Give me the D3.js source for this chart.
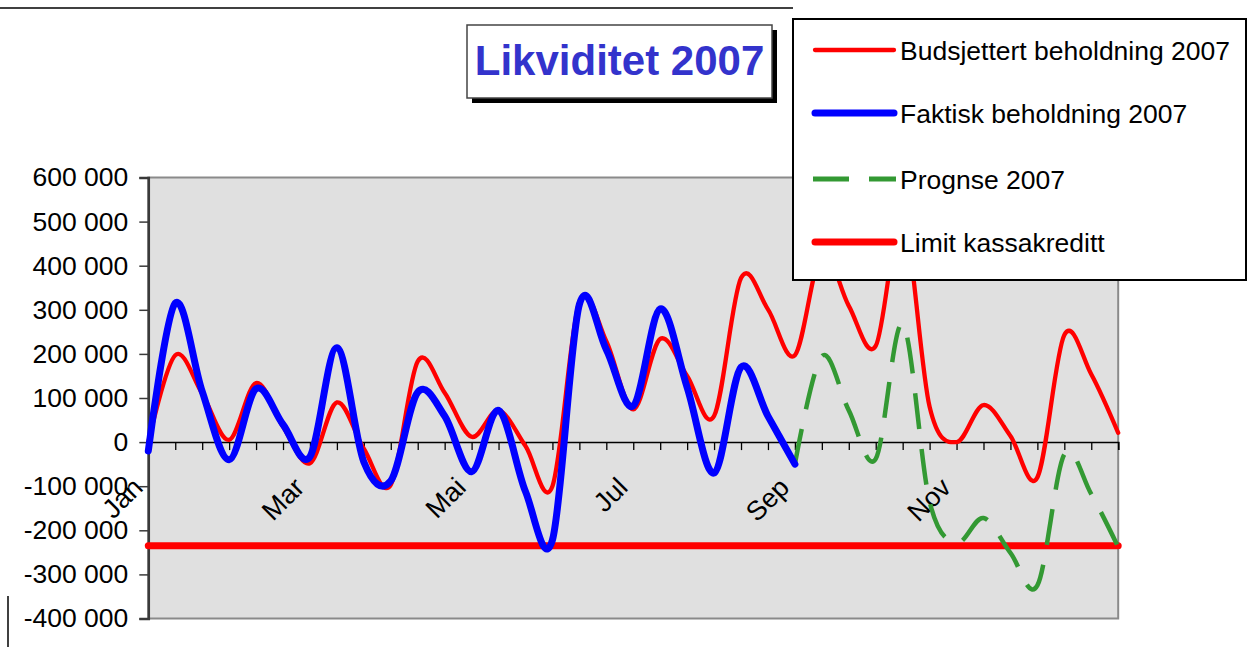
<!DOCTYPE html>
<html>
<head>
<meta charset="utf-8">
<script src="https://cdn.jsdelivr.net/npm/d3@7"></script>
<style>
  body { margin: 0; background: #fff; }
  svg { display: block; }
  text { font-family: "Liberation Sans", Arial, sans-serif; }
</style>
</head>
<body>
<div id="chart"></div>
<script>
// 3 points per month (start, ~10th, ~20th) + year end
const categories = [
  "Jan", "", "", "Feb", "", "", "Mar", "", "", "Apr", "", "", "Mai", "", "", "Jun", "", "",
  "Jul", "", "", "Aug", "", "", "Sep", "", "", "Okt", "", "", "Nov", "", "", "Des", "", "", ""
];

const budget = [
  0, 197000, 110000, 5000, 134000, 35000, -48000, 90000, -15000, -97000, 183000, 112000,
  12000, 72000, -9000, -100000, 318000, 229000, 74000, 234000, 150000, 59000, 372000, 301000,
  197000, 430000, 309000, 218000, 510000, 80000, 0, 84000, 14000, -80000, 243000, 154000, 21000
];

const actual = [
  -20000, 315000, 115000, -40000, 121000, 40000, -33000, 214000, -45000, -88000, 113000, 59000,
  -67000, 72000, -112000, -222000, 312000, 210000, 82000, 302000, 124000, -70000, 170000, 59000,
  -50000, null, null, null, null, null, null, null, null, null, null, null, null
];

const forecast = [
  null, null, null, null, null, null, null, null, null, null, null, null,
  null, null, null, null, null, null, null, null, null, null, null, null,
  -50000, 195000, 72000, -38000, 268000, -135000, -228000, -172000, -251000, -325000, -28000, -118000, -238000
];

const limit = [
  -235000, -235000, -235000, -235000, -235000, -235000, -235000, -235000, -235000, -235000,
  -235000, -235000, -235000, -235000, -235000, -235000, -235000, -235000, -235000, -235000,
  -235000, -235000, -235000, -235000, -235000, -235000, -235000, -235000, -235000, -235000,
  -235000, -235000, -235000, -235000, -235000, -235000, -235000
];

const yTicks = [-400000, -300000, -200000, -100000, 0, 100000, 200000, 300000, 400000, 500000, 600000];
const seriesNames = ["Budsjettert beholdning 2007", "Faktisk beholdning 2007", "Prognse 2007", "Limit kassakreditt"];
const title = "Likviditet 2007";

const W = 1248, H = 647;
const plot = { left: 148.3, right: 1118.2, top: 177.5, bottom: 618.5 };

const svg = d3.select("#chart").append("svg")
  .attr("width", W)
  .attr("height", H);

const x = d3.scaleLinear().domain([0, categories.length - 1]).range([plot.left, plot.right]);
const y = d3.scaleLinear().domain([-400000, 600000]).range([plot.bottom, plot.top]);

const fmt = v => (v < 0 ? "-" : "") + d3.format(",")(Math.abs(v)).replace(/,/g, " ");

// chart frame bits visible in the picture
svg.append("line").attr("x1", 0).attr("x2", 793).attr("y1", 8).attr("y2", 8)
  .attr("stroke", "#000").attr("stroke-width", 1.5);
svg.append("line").attr("x1", 8).attr("x2", 8).attr("y1", 596).attr("y2", H)
  .attr("stroke", "#000").attr("stroke-width", 1.5);

// plot area
svg.append("rect")
  .attr("x", plot.left).attr("y", plot.top)
  .attr("width", plot.right - plot.left).attr("height", plot.bottom - plot.top)
  .attr("fill", "#e0e0e0")
  .attr("stroke", "#8a8a8a")
  .attr("stroke-width", 2);

// y axis
const yAxis = d3.axisLeft(y).tickValues(yTicks).tickSize(9).tickPadding(11).tickFormat(fmt);
const gy = svg.append("g").attr("transform", `translate(${plot.left},0)`).call(yAxis);
gy.select(".domain").attr("stroke", "#3a3a3a").attr("stroke-width", 2.5);
gy.selectAll(".tick line").attr("stroke", "#3a3a3a").attr("stroke-width", 1.5);
gy.selectAll(".tick text")
  .attr("font-size", 26.5)
  .attr("fill", "#000")
  .style("font-family", "'Liberation Sans', Arial, sans-serif");

// category axis at zero
const y0 = y(0);
const xAxis = d3.axisBottom(x)
  .tickValues(d3.range(categories.length))
  .tickSize(8)
  .tickFormat("");
const gx = svg.append("g").attr("transform", `translate(0,${y0})`).call(xAxis);
gx.select(".domain").attr("stroke", "#000").attr("stroke-width", 1.5);
gx.selectAll(".tick line").attr("stroke", "#000").attr("stroke-width", 1.3);

svg.append("g")
  .selectAll("text")
  .data(categories.map((c, i) => ({ c, i })).filter(d => d.c && d.i % 6 === 0))
  .join("text")
  .attr("transform", d => `translate(${x(d.i) - 4},${y0 + 47}) rotate(-45)`)
  .attr("text-anchor", "end")
  .attr("font-size", 27)
  .attr("fill", "#000")
  .text(d => d.c);

// series (smoothed like the spreadsheet lines)
const line = d3.line()
  .defined(d => d != null)
  .x((d, i) => x(i))
  .y(d => y(d))
  .curve(d3.curveCardinal);

const series = [
  { name: seriesNames[3], data: limit, color: "#ff0000", width: 7, dash: null },
  { name: seriesNames[0], data: budget, color: "#ff0000", width: 4.3, dash: null },
  { name: seriesNames[2], data: forecast, color: "#339933", width: 4.5, dash: "36 20" },
  { name: seriesNames[1], data: actual, color: "#0000ff", width: 7, dash: null }
];

svg.append("g")
  .selectAll("path")
  .data(series)
  .join("path")
  .attr("d", d => line(d.data))
  .attr("fill", "none")
  .attr("stroke", d => d.color)
  .attr("stroke-width", d => d.width)
  .attr("stroke-dasharray", d => d.dash)
  .attr("stroke-linejoin", "round")
  .attr("stroke-linecap", d => d.dash ? "butt" : "round");

// title box with shadow
const tb = { x: 467, y: 25, w: 305, h: 73 };
svg.append("rect").attr("x", tb.x + 5).attr("y", tb.y + 5).attr("width", tb.w).attr("height", tb.h).attr("fill", "#000");
svg.append("rect").attr("x", tb.x).attr("y", tb.y).attr("width", tb.w).attr("height", tb.h)
  .attr("fill", "#fff").attr("stroke", "#444").attr("stroke-width", 1.5);
svg.append("text")
  .attr("x", tb.x + tb.w / 2).attr("y", tb.y + 50)
  .attr("text-anchor", "middle")
  .attr("font-size", 42)
  .attr("font-weight", "bold")
  .attr("fill", "#3333cc")
  .text(title);

// legend
const lg = { x: 793, y: 19, w: 453, h: 261 };
svg.append("rect").attr("x", lg.x).attr("y", lg.y).attr("width", lg.w).attr("height", lg.h)
  .attr("fill", "#fff").attr("stroke", "#000").attr("stroke-width", 2);

const legendItems = [
  { name: seriesNames[0], color: "#ff0000", width: 4.3, dash: null },
  { name: seriesNames[1], color: "#0000ff", width: 7, dash: null },
  { name: seriesNames[2], color: "#339933", width: 5, dash: "36 20" },
  { name: seriesNames[3], color: "#ff0000", width: 7, dash: null }
];
const rowY = [50, 113, 179, 242];

const items = svg.append("g")
  .selectAll("g")
  .data(legendItems)
  .join("g")
  .attr("transform", (d, i) => `translate(0,${rowY[i]})`);

items.append("line")
  .attr("x1", d => d.dash ? 813 : 815).attr("x2", d => d.dash ? 896 : 894)
  .attr("stroke", d => d.color)
  .attr("stroke-width", d => d.width)
  .attr("stroke-dasharray", d => d.dash)
  .attr("stroke-linecap", d => d.dash ? "butt" : "round");

items.append("text")
  .attr("x", 900)
  .attr("dy", "0.36em")
  .attr("font-size", 26.5)
  .attr("fill", "#000")
  .text(d => d.name);
</script>
</body>
</html>
